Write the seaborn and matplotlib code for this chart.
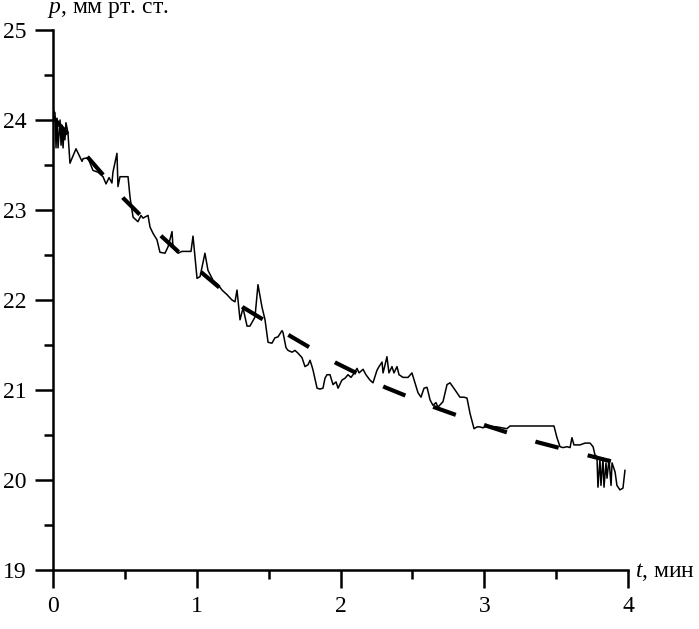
import numpy as np
import pandas as pd
import matplotlib
matplotlib.use("Agg")
import matplotlib.pyplot as plt
import seaborn as sns
from matplotlib.ticker import MultipleLocator

# measured pressure (t in minutes, p in mm Hg)
t_meas = [0.000, 0.014, 0.021, 0.028, 0.035, 0.049, 0.056, 0.063, 0.070, 0.077, 0.083, 0.090,
          0.104, 0.118, 0.160, 0.202, 0.209, 0.243, 0.278, 0.313, 0.348, 0.369, 0.390, 0.410,
          0.417, 0.445, 0.452, 0.466, 0.522, 0.536, 0.557, 0.591, 0.612, 0.626, 0.661, 0.675,
          0.696, 0.723, 0.744, 0.779, 0.800, 0.828, 0.835, 0.870, 0.897, 0.960, 0.974, 1.002,
          1.023, 1.057, 1.078, 1.113, 1.148, 1.176, 1.210, 1.245, 1.266, 1.280, 1.301, 1.322,
          1.350, 1.370, 1.405, 1.426, 1.454, 1.475, 1.496, 1.523, 1.544, 1.565, 1.593, 1.600,
          1.621, 1.635, 1.663, 1.683, 1.704, 1.732, 1.753, 1.774, 1.788, 1.802, 1.809, 1.837,
          1.857, 1.878, 1.892, 1.906, 1.927, 1.948, 1.969, 1.983, 2.010, 2.031, 2.052, 2.073,
          2.087, 2.115, 2.129, 2.157, 2.177, 2.205, 2.226, 2.254, 2.268, 2.289, 2.296, 2.310,
          2.323, 2.337, 2.358, 2.372, 2.393, 2.407, 2.435, 2.470, 2.497, 2.518, 2.539, 2.560,
          2.581, 2.602, 2.623, 2.643, 2.664, 2.678, 2.713, 2.741, 2.762, 2.797, 2.831, 2.859,
          2.880, 2.901, 2.929, 2.950, 2.970, 2.991, 3.019, 3.089, 3.158, 3.179, 3.485, 3.506,
          3.527, 3.548, 3.576, 3.597, 3.610, 3.624, 3.666, 3.701, 3.736, 3.757, 3.770, 3.784,
          3.791, 3.805, 3.812, 3.826, 3.833, 3.847, 3.854, 3.868, 3.882, 3.889, 3.910, 3.923,
          3.944, 3.965, 3.979]
p_meas = [24.11, 24.08, 23.69, 24.02, 23.69, 24.00, 23.72, 23.94, 23.69, 23.91, 23.78, 23.97,
          23.86, 23.52, 23.68, 23.54, 23.57, 23.58, 23.44, 23.42, 23.37, 23.29, 23.36, 23.30,
          23.42, 23.63, 23.26, 23.37, 23.37, 23.14, 22.92, 22.87, 22.94, 22.91, 22.94, 22.81,
          22.74, 22.67, 22.53, 22.52, 22.59, 22.76, 22.58, 22.52, 22.54, 22.54, 22.71, 22.24,
          22.26, 22.52, 22.33, 22.22, 22.17, 22.11, 22.06, 22.00, 21.98, 22.11, 21.78, 21.91,
          21.71, 21.71, 21.81, 22.17, 21.92, 21.78, 21.53, 21.52, 21.58, 21.59, 21.66, 21.64,
          21.47, 21.44, 21.42, 21.44, 21.41, 21.36, 21.26, 21.28, 21.33, 21.26, 21.22, 21.02,
          21.01, 21.02, 21.13, 21.17, 21.17, 21.06, 21.09, 21.02, 21.11, 21.13, 21.17, 21.14,
          21.17, 21.24, 21.19, 21.23, 21.17, 21.11, 21.08, 21.22, 21.26, 21.31, 21.19, 21.28,
          21.37, 21.19, 21.26, 21.19, 21.26, 21.17, 21.14, 21.14, 21.19, 21.08, 20.97, 20.92,
          21.02, 21.03, 20.89, 20.83, 20.86, 20.81, 20.87, 21.06, 21.08, 21.00, 20.92, 20.92,
          20.91, 20.74, 20.57, 20.59, 20.59, 20.58, 20.60, 20.59, 20.57, 20.60, 20.60, 20.47,
          20.37, 20.36, 20.37, 20.36, 20.47, 20.39, 20.39, 20.41, 20.41, 20.37, 20.28, 20.26,
          19.92, 20.23, 19.94, 20.24, 19.92, 20.19, 20.02, 20.23, 19.94, 20.19, 20.09, 19.94,
          19.89, 19.91, 20.11]

# approximating curve (dashed)
t_fit = [0.00, 0.24, 0.49, 0.76, 1.00, 1.32, 1.65, 1.97, 2.31, 2.65, 3.02, 3.37, 3.73, 3.90]
p_fit = [24.03, 23.59, 23.13, 22.70, 22.35, 21.92, 21.60, 21.30, 21.03, 20.81, 20.60, 20.42, 20.27, 20.20]

x_ticks = [0, 1, 2, 3, 4]
y_ticks = [19, 20, 21, 22, 23, 24, 25]

sns.set_theme(style="ticks")
plt.rcParams["font.family"] = ["Liberation Serif", "DejaVu Serif"]
plt.rcParams["mathtext.fontset"] = "custom"
plt.rcParams["mathtext.rm"] = "Liberation Serif"
plt.rcParams["mathtext.it"] = "Liberation Serif:italic"

fig = plt.figure(figsize=(6.99, 6.29), dpi=100)
ax = fig.add_axes([53 / 699, 59 / 629, 575 / 699, 540 / 629])

meas = pd.DataFrame({"t": t_meas, "p": p_meas})
fit = pd.DataFrame({"t": t_fit, "p": p_fit})

sns.lineplot(data=meas, x="t", y="p", ax=ax, color="black", linewidth=1.1,
             estimator=None, sort=False)
sns.lineplot(data=fit, x="t", y="p", ax=ax, color="black", linewidth=3.0,
             estimator=None, sort=False)
ax.lines[-1].set_linestyle((0.4, (5.76, 7.2)))
ax.lines[-1].set_dash_capstyle("butt")

ax.set_xlim(0, 4)
ax.set_ylim(19, 25)
ax.set_xticks(x_ticks)
ax.set_yticks(y_ticks)
ax.xaxis.set_minor_locator(MultipleLocator(0.5))
ax.yaxis.set_minor_locator(MultipleLocator(0.5))
ax.set_xlabel("")
ax.set_ylabel("")

for s in ["top", "right"]:
    ax.spines[s].set_visible(False)
for s in ["left", "bottom"]:
    ax.spines[s].set_linewidth(1.8)
    ax.spines[s].set_color("black")

ax.tick_params(which="major", length=13, width=1.8, color="black",
               labelsize=17, pad=6, labelcolor="black")
ax.tick_params(which="minor", length=6.5, width=1.8, color="black")

fig.text(47 / 699, 1 - 13 / 629, r"$p$, мм рт. ст.", fontsize=17,
         ha="left", va="baseline", color="black")
fig.text(635 / 699, 1 - 577 / 629, r"$t$, мин", fontsize=17,
         ha="left", va="baseline", color="black")

fig.savefig("out.png", dpi=100, facecolor="white")
